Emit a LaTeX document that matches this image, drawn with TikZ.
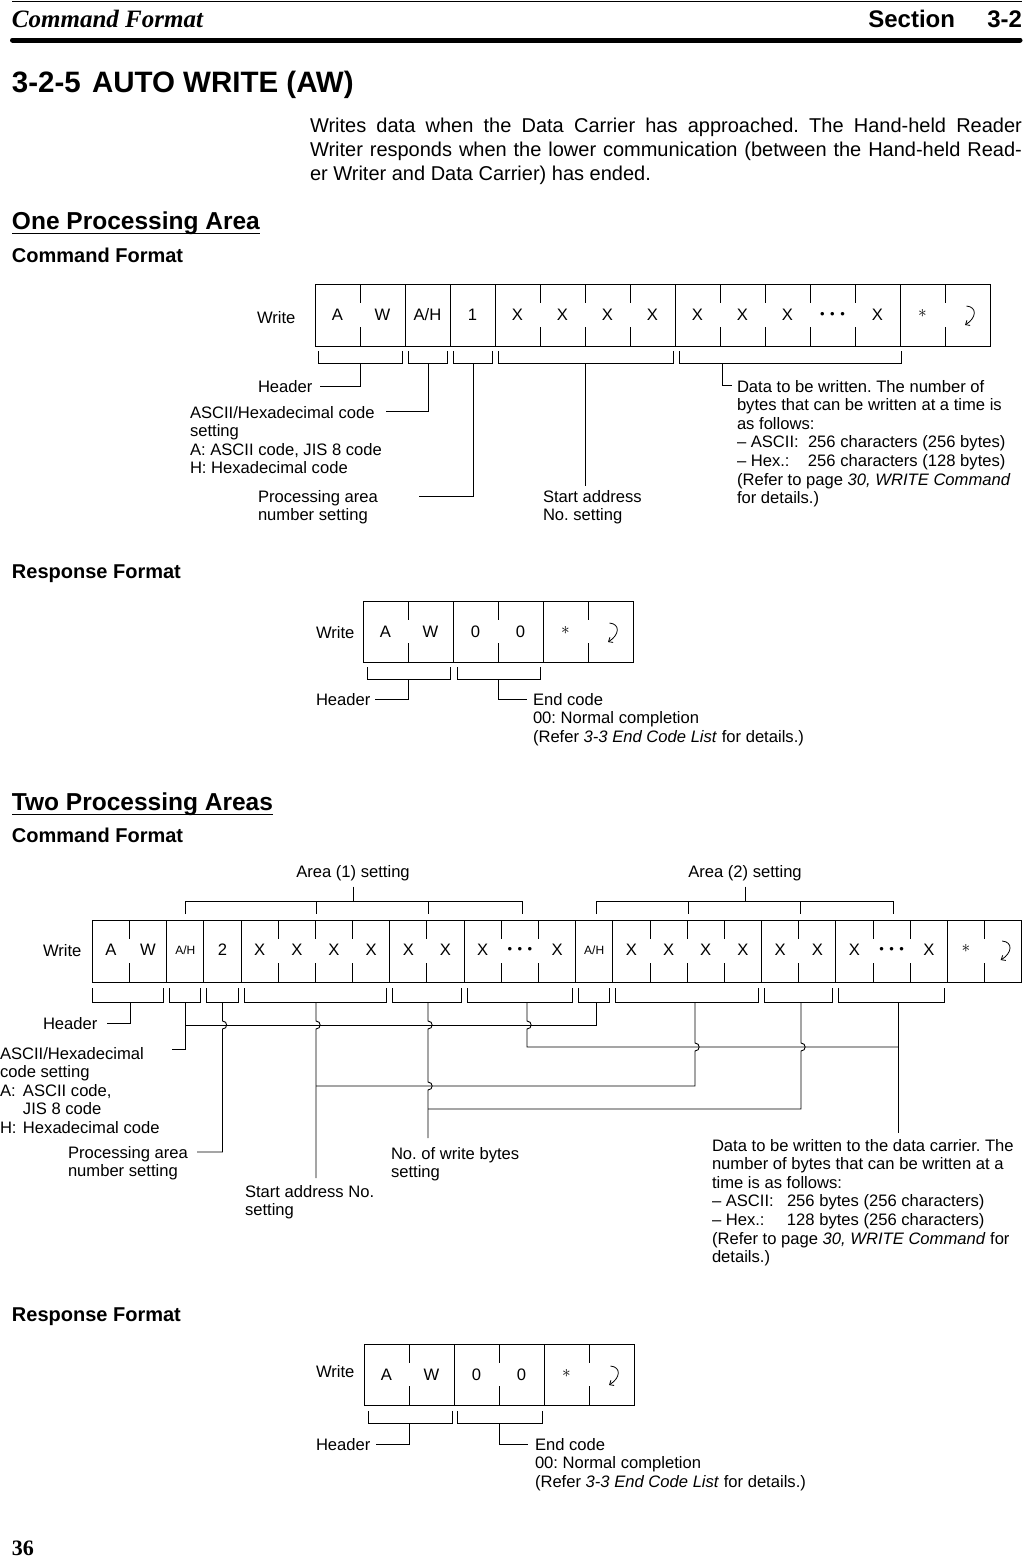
\documentclass[tikz,border=0pt]{standalone}
\usepackage{fontspec}
\setmainfont{Liberation Sans}
\newfontfamily\hdserif{Liberation Serif}
\usetikzlibrary{arrows.meta}
\frenchspacing
\newcommand\lab{\fontsize{16.6}{18.6}\selectfont}
\newcommand\fst{\rule{0pt}{13pt}}
\newcommand\dotsthree{\fontsize{13}{13}\selectfont •\hspace{5.5pt}•\hspace{5.5pt}•}
\newcommand\bracketpath[4]{\draw[brk] (#1,#3) |- (#2,#4) -- (#2,#3);}
\begin{document}
\begin{tikzpicture}[x=1pt,y=-1pt,
  every node/.style={inner sep=0pt, outer sep=0pt},
  lab/.style={font=\lab, anchor=base west},
  mlab/.style={font=\lab, anchor=north west, align=left},
  cellt/.style={font=\lab},
  small/.style={font={\fontsize{12}{12}\selectfont}},
  fr/.style={line width=1pt},
  conn/.style={line width=0.9pt},
  brk/.style={line width=0.9pt},
  retarrow/.pic={\draw[line width=0.8pt,-{Straight Barb[length=3.5pt,width=6pt]}] (-1,-9) .. controls (10,-8) and (9,3) .. (-2.5,10);}
]
\useasboundingbox (0,0) rectangle (1025,1558);
\fill[white] (0,0) rectangle (1025,1558);

% ---------- page header ----------
\draw[line width=1.5pt] (12,1.5) -- (1022,1.5);
\node[font={\hdserif\bfseries\itshape\fontsize{25}{25}\selectfont}, anchor=base west] (hdl) at (12,27) {Command Format};
\node[font={\bfseries\fontsize{24}{24}\selectfont}, anchor=base east] (hds) at (955,27) {Section};
\node[font={\bfseries\fontsize{24}{24}\selectfont}, anchor=base east] (hdn) at (1022,27) {3-2};
\draw[line width=5pt, line cap=round] (12.5,40) -- (1020,40);

% ---------- title and paragraph ----------
\node[font={\bfseries\fontsize{29.5}{30}\selectfont}, anchor=base west] (tnum) at (12,92) {3-2-5};
\node[font={\bfseries\fontsize{29.5}{30}\selectfont}, anchor=base west] (ttl) at (92,92) {AUTO WRITE (AW)};
\node[font={\fontsize{20}{24}\selectfont}, anchor=base west] (p1) at (310,132) {\makebox[712pt][s]{Writes data when the Data Carrier has approached. The Hand-held Reader}};
\node[font={\fontsize{20}{24}\selectfont}, anchor=base west] (p2) at (310,156) {\makebox[712pt][s]{Writer responds when the lower communication (between the Hand-held Read-}};
\node[font={\fontsize{20}{24}\selectfont}, anchor=base west] (p3) at (310,180) {er Writer and Data Carrier) has ended.};

% ---------- One processing area ----------
\node[font={\bfseries\fontsize{24.5}{26}\selectfont}, anchor=base west] (h1) at (12,229) {One Processing Area};
\draw[line width=1.8pt] ([yshift=-4.5pt]h1.base west) -- ([yshift=-4.5pt]h1.base east);
\node[font={\bfseries\fontsize{20}{22}\selectfont}, anchor=base west] (cf1) at (12,262) {Command Format};

% frame 1
\node[lab] (w1) at (257,323) {Write};
\draw[fr] (315,284) rectangle (990,346);
\foreach \x in {405,450,495,675,900} {\draw[fr] (\x,284) -- (\x,346);}
\foreach \x in {360,540,585,630,720,765,810,855,945} {\draw[fr] (\x,284) -- (\x,303); \draw[fr] (\x,327) -- (\x,346);}
\foreach \t [count=\i from 0] in {A,W,A/H,1,X,X,X,X,X,X,X}
  {\node[cellt] (ca\i) at (337.5+45*\i,315) {\t};}
\node[cellt] (ca11) at (832.5,315) {\dotsthree};
\node[cellt] (ca12) at (877.5,315) {X};
\node[cellt] (ca13) at (922.5,313) {$\ast$};
\pic at (967.5,315) {retarrow};

\foreach \a/\b in {318/402,408/447,453/492,498/673,679/901} {\bracketpath{\a}{\b}{351}{363}}
\coordinate (s1h) at (360,363);
\coordinate (s1a) at (428,363);
\coordinate (s1p) at (473,363);
\coordinate (s1s) at (585,363);
\coordinate (s1d) at (722,363);

\node[lab] (hdr1) at (258,392) {Header};
\node[mlab] (asc1) at (190,405) {\fst ASCII/Hexadecimal code\\setting\\A: ASCII code, JIS 8 code\\H: Hexadecimal code};
\node[mlab] (prc1) at (258,489) {\fst Processing area\\number setting};
\node[mlab] (sta1) at (543,489) {\fst Start address\\No. setting};
\node[mlab] (dat1) at (737,379) {\fst Data to be written. The number of\\bytes that can be written at a time is\\as follows:\\\makebox[71pt][l]{– ASCII:}256 characters (256 bytes)\\\makebox[71pt][l]{– Hex.:}256 characters (128 bytes)\\(Refer to page \textit{30, WRITE Command}\\for details.)};

\draw[conn] (s1h) |- ([xshift=8pt]hdr1.east);
\draw[conn] (s1a) |- (386,411);
\draw[conn] (s1p) |- (419,496);
\draw[conn] (s1s) -- (585,486);
\draw[conn] (s1d) |- (732,385);

% response 1
\node[font={\bfseries\fontsize{20}{22}\selectfont}, anchor=base west] (rf1) at (12,578) {Response Format};
\node[lab] (w2) at (316,638) {Write};
\draw[fr] (363,601) rectangle (633,662);
\foreach \x in {453,543} {\draw[fr] (\x,601) -- (\x,662);}
\foreach \x in {408,498,588} {\draw[fr] (\x,601) -- (\x,620); \draw[fr] (\x,643) -- (\x,662);}
\foreach \t [count=\i from 0] in {A,W,0,0}
  {\node[cellt] (cb\i) at (385.5+45*\i,632) {\t};}
\node[cellt] (cb4) at (565.5,630) {$\ast$};
\pic at (610.5,632) {retarrow};
\bracketpath{367}{450}{667}{679}
\bracketpath{457}{540}{667}{679}
\node[lab] (hdr2) at (316,705) {Header};
\node[mlab] (ec2) at (533,692) {\fst End code\\00: Normal completion\\(Refer \textit{3-3 End Code List} for details.)};
\coordinate (s2h) at (408.5,679);
\coordinate (s2e) at (498.5,679);
\draw[conn] (s2h) |- ([xshift=5pt]hdr2.east);
\draw[conn] (s2e) |- (527,699);

% ---------- Two processing areas ----------
\node[font={\bfseries\fontsize{24.5}{26}\selectfont}, anchor=base west] (h2) at (12,810) {Two Processing Areas};
\draw[line width=1.8pt] ([yshift=-4.5pt]h2.base west) -- ([yshift=-4.5pt]h2.base east);
\node[font={\bfseries\fontsize{20}{22}\selectfont}, anchor=base west] (cf2) at (12,842) {Command Format};

\node[cellt] (ar1) at (353,873) {Area (1) setting};
\node[cellt] (ar2) at (745,873) {Area (2) setting};
\draw[conn] ([yshift=-6pt]ar1.south) -- (353,901);
\draw[conn] (185.5,914) -- (185.5,901) -- (522,901) -- (522,914);
\foreach \x in {316,428} {\draw[conn] (\x,901) -- (\x,914);}
\draw[conn] ([yshift=-6pt]ar2.south) -- (745,901);
\draw[conn] (596,914) -- (596,901) -- (893,901) -- (893,914);
\foreach \x in {688,800} {\draw[conn] (\x,901) -- (\x,914);}

% frame 3
\node[lab] (w3) at (43,956) {Write};
\draw[fr] (92.3,920) rectangle (1021.8,982);
\foreach \k in {2,3,4,8,10,13,14,18,20,23} {\draw[fr] ({92.3+37.18*\k},920) -- ++(0,62);}
\foreach \k in {1,5,6,7,9,11,12,15,16,17,19,21,22,24} {\draw[fr] ({92.3+37.18*\k},920) -- ++(0,19); \draw[fr] ({92.3+37.18*\k},963) -- ++(0,19);}
\foreach \i/\t in {0/A,1/W,3/2,4/X,5/X,6/X,7/X,8/X,9/X,10/X,12/X,14/X,15/X,16/X,17/X,18/X,19/X,20/X,22/X}
  {\node[cellt] (cc\i) at ({110.89+37.18*\i},950) {\t};}
\node[small] (cc2) at ({110.89+37.18*2},950) {A/H};
\node[small] (cc13) at ({110.89+37.18*13},950) {A/H};
\node[cellt] (cc11) at ({110.89+37.18*11},950) {\dotsthree};
\node[cellt] (cc21) at ({110.89+37.18*21},950) {\dotsthree};
\node[cellt] (cc23) at ({110.89+37.18*23},948) {$\ast$};
\pic at ({110.89+37.18*24},950) {retarrow};

\foreach \a/\b in {92.8/163.7,169.7/200.8,206.8/238,244/386.7,392.7/461.1,467.1/572.6,578.6/609.8,615.8/758.5,764.5/832.9,838.9/944.4} {\bracketpath{\a}{\b}{988}{1002}}

\node[lab] (hdr3) at (43,1029) {Header};
\node[mlab] (asc3) at (0,1046) {\fst ASCII/Hexadecimal\\code setting\\\makebox[23pt][l]{A:}ASCII code,\\\hspace*{23pt}JIS 8 code\\\makebox[23pt][l]{H:}Hexadecimal code};
\node[mlab] (prc3) at (68,1145) {\fst Processing area\\number setting};
\node[mlab] (sta3) at (245,1184) {\fst Start address No.\\setting};
\node[mlab] (nwb3) at (391,1146) {\fst No. of write bytes\\setting};
\node[mlab] (dat3) at (712,1138) {\fst Data to be written to the data carrier. The\\number of bytes that can be written at a\\time is as follows:\\\makebox[75pt][l]{– ASCII:}256 bytes (256 characters)\\\makebox[75pt][l]{– Hex.:}128 bytes (256 characters)\\(Refer to page \textit{30, WRITE Command} for\\details.)};

\coordinate (s3h) at (130,1002);
\coordinate (s3a) at (185.5,1002);
\coordinate (s3p) at (222.5,1002);
\coordinate (s3s) at (316,1002);
\coordinate (s3n) at (428,1002);
\coordinate (s3d) at (527,1002);
\coordinate (s3a2) at (596,1002);
\coordinate (s3s2) at (695,1002);
\coordinate (s3n2) at (801,1002);
\coordinate (s3d2) at (898,1002);

\draw[conn] (s3h) |- ([xshift=10pt]hdr3.east);
\draw[conn] (s3a) -- (185.5,1049) -- (172,1049);
\draw[conn] (s3a2) -- (596,1025) -- (185.5,1025);
\draw[conn] (s3p) -- (222.5,1021) .. controls (228,1021) and (228,1029) .. (222.5,1029) -- (222.5,1152) -- (197,1152);
\draw[conn] (s3s) -- (316,1021) .. controls (321.5,1021) and (321.5,1029) .. (316,1029) -- (316,1178);
\draw[conn] (s3n) -- (428,1021) .. controls (433.5,1021) and (433.5,1029) .. (428,1029) -- (428,1082) .. controls (433.5,1082) and (433.5,1090) .. (428,1090) -- (428,1138);
\draw[conn] (s3d) -- (527,1021) .. controls (532.5,1021) and (532.5,1029) .. (527,1029) -- (527,1047) -- (898,1047);
\draw[conn] (s3d2) -- (898,1133);
\draw[conn] (s3s2) -- (695,1043) .. controls (700.5,1043) and (700.5,1051) .. (695,1051) -- (695,1086) -- (316,1086);
\draw[conn] (s3n2) -- (801,1043) .. controls (806.5,1043) and (806.5,1051) .. (801,1051) -- (801,1109) -- (428,1109);

% response 2
\node[font={\bfseries\fontsize{20}{22}\selectfont}, anchor=base west] (rf2) at (12,1321) {Response Format};
\node[lab] (w4) at (316,1377) {Write};
\draw[fr] (364,1344) rectangle (634,1405);
\foreach \x in {454,544} {\draw[fr] (\x,1344) -- (\x,1405);}
\foreach \x in {409,499,589} {\draw[fr] (\x,1344) -- (\x,1363); \draw[fr] (\x,1386) -- (\x,1405);}
\foreach \t [count=\i from 0] in {A,W,0,0}
  {\node[cellt] (cd\i) at (386.5+45*\i,1375) {\t};}
\node[cellt] (cd4) at (566.5,1373) {$\ast$};
\pic at (611.5,1375) {retarrow};
\bracketpath{368}{452}{1411}{1423}
\bracketpath{457}{542}{1411}{1423}
\node[lab] (hdr4) at (316,1450) {Header};
\node[mlab] (ec4) at (535,1437) {\fst End code\\00: Normal completion\\(Refer \textit{3-3 End Code List} for details.)};
\coordinate (s4h) at (409,1423);
\coordinate (s4e) at (499,1423);
\draw[conn] (s4h) |- ([xshift=6pt]hdr4.east);
\draw[conn] (s4e) |- (528,1444);

% page number
\node[font={\hdserif\bfseries\fontsize{22}{22}\selectfont}, anchor=base west] (pg) at (12,1555) {36};
\end{tikzpicture}
\end{document}
